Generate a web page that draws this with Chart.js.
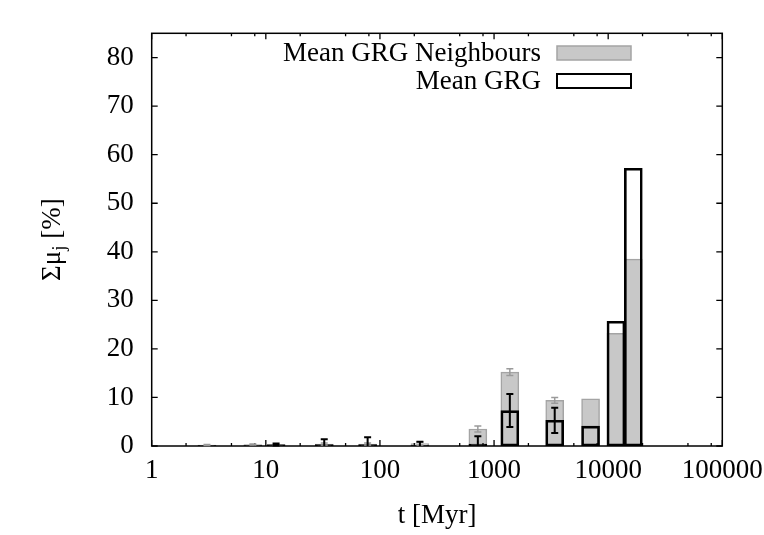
<!DOCTYPE html>
<html>
<head>
<meta charset="utf-8">
<script src="https://cdn.jsdelivr.net/npm/chart.js@4"></script>
<style>
html, body { margin: 0; padding: 0; background: #fff; }
</style>
</head>
<body>
<canvas id="chart" width="764" height="535"></canvas>
<script>
// DATA -----------------------------------------------------------------------

const ages = [3.05, 7.7, 12.3, 32.5, 78, 224, 721, 1375, 3400, 7010, 11700, 16600]
const neighbours = [0.2, 0.3, 0.1, 0.4, 0.4, 0.5, 3.5, 15.2, 9.4, 9.7, 23.2, 38.5]
const neighboursErr = [0.1, 0.1, 0.1, 0.2, 0.2, 0.3, 0.6, 0.7, 0.6, 0, 0, 0]
const grg = [0.1, 0.1, 0.3, 0.3, 0.3, 0.1, 0.4, 7.3, 5.3, 4.1, 25.7, 57.2]
const grgErr = [0, 0, 0.2, 1.1, 1.5, 0.8, 1.6, 3.4, 2.6, 0, 0, 0]

const xTicks = [1, 10, 100, 1000, 10000, 100000]
const xMinor = [2, 5, 8]
const yTicks = [0, 10, 20, 30, 40, 50, 60, 70, 80]

// SETTINGS -------------------------------------------------------------------

const serif = '"Liberation Serif", "Times New Roman", serif'
const style = {
    neighbours: {label: 'Mean GRG Neighbours', fill: '#c8c8c8', edge: '#a4a4a4', err: '#9a9a9a'},
    grg: {label: 'Mean GRG', fill: 'rgba(255,255,255,0)', edge: '#000000', err: '#000000'}
}

function points(values) {
    return ages.map((t, i) => ({x: t, y: values[i]}))
}

// PLUGINS --------------------------------------------------------------------

// gnuplot style frame with inward ticks on all four sides
const framePlugin = {
    id: 'frame',
    afterDatasetsDraw(chart) {
        const {ctx, chartArea: a, scales: {x, y}} = chart
        ctx.save()
        ctx.strokeStyle = '#000'
        ctx.lineWidth = 1.3
        ctx.beginPath()
        xTicks.forEach((d, k) => {
            const px = x.getPixelForValue(d)
            ctx.moveTo(px, a.bottom); ctx.lineTo(px, a.bottom - 6)
            ctx.moveTo(px, a.top); ctx.lineTo(px, a.top + 6)
            if (k < xTicks.length - 1) {
                xMinor.forEach(m => {
                    const mx = x.getPixelForValue(m * d)
                    ctx.moveTo(mx, a.bottom); ctx.lineTo(mx, a.bottom - 3)
                    ctx.moveTo(mx, a.top); ctx.lineTo(mx, a.top + 3)
                })
            }
        })
        yTicks.forEach(v => {
            const py = y.getPixelForValue(v)
            ctx.moveTo(a.left, py); ctx.lineTo(a.left + 6, py)
            ctx.moveTo(a.right, py); ctx.lineTo(a.right - 6, py)
        })
        ctx.stroke()
        ctx.lineWidth = 1.5
        ctx.strokeRect(a.left, a.top, a.right - a.left, a.bottom - a.top)
        ctx.restore()
    }
}

// error bars with small caps
const errorPlugin = {
    id: 'errors',
    afterDatasetsDraw(chart) {
        const {ctx, scales: {x, y}} = chart
        const sets = [[neighbours, neighboursErr, style.neighbours.err, 1.5], [grg, grgErr, style.grg.err, 2]]
        ctx.save()
        sets.forEach(([vals, errs, color, w]) => {
            ctx.strokeStyle = color
            ctx.lineWidth = w
            ctx.beginPath()
            ages.forEach((t, i) => {
                if (!errs[i]) return
                const px = x.getPixelForValue(t)
                const lo = y.getPixelForValue(Math.max(0, vals[i] - errs[i]))
                const hi = y.getPixelForValue(vals[i] + errs[i])
                ctx.moveTo(px, lo); ctx.lineTo(px, hi)
                ctx.moveTo(px - 3.5, hi); ctx.lineTo(px + 3.5, hi)
                if (vals[i] - errs[i] > 0) {
                    ctx.moveTo(px - 3.5, lo); ctx.lineTo(px + 3.5, lo)
                }
            })
            ctx.stroke()
        })
        ctx.restore()
    }
}

// legend (text right aligned, key box on the right) and axis titles
const textPlugin = {
    id: 'texts',
    afterDraw(chart) {
        const {ctx, chartArea: a} = chart
        ctx.save()
        ctx.fillStyle = '#000'
        ctx.font = `27px ${serif}`
        ctx.textAlign = 'right'
        ctx.textBaseline = 'alphabetic'
        const rows = [style.neighbours, style.grg]
        rows.forEach((s, i) => {
            const base = 61 + i * 28
            ctx.fillText(s.label, 541, base)
            ctx.fillStyle = s.fill === style.grg.fill ? '#fff' : s.fill
            ctx.fillRect(557, base - 15, 74, 14)
            ctx.strokeStyle = s.edge
            ctx.lineWidth = i === 0 ? 1.5 : 2
            ctx.strokeRect(557, base - 15, 74, 14)
            ctx.fillStyle = '#000'
        })

        // x title
        ctx.textAlign = 'center'
        ctx.fillText('t [Myr]', (a.left + a.right) / 2, 523)

        // y title with subscript
        ctx.translate(60, (a.top + a.bottom) / 2)
        ctx.rotate(-Math.PI / 2)
        ctx.textAlign = 'left'
        const big = `27px ${serif}`
        const small = `19px ${serif}`
        ctx.font = big
        const w1 = ctx.measureText('\u03a3\u03bc').width
        const w3 = ctx.measureText(' [%]').width
        ctx.font = small
        const w2 = ctx.measureText('j').width
        let xx = -(w1 + w2 + w3) / 2
        ctx.font = big
        ctx.fillText('\u03a3\u03bc', xx, 0)
        xx += w1
        ctx.font = small
        ctx.fillText('j', xx, 5)
        xx += w2
        ctx.font = big
        ctx.fillText(' [%]', xx, 0)
        ctx.restore()
    }
}

// CHART ----------------------------------------------------------------------

new Chart(document.getElementById('chart'), {
    type: 'bar',
    data: {
        datasets: [
            {
                label: style.grg.label,
                data: points(grg),
                backgroundColor: style.grg.fill,
                borderColor: style.grg.edge,
                borderWidth: 2,
                borderSkipped: false,
                grouped: false,
                barThickness: 18,
                order: 0
            },
            {
                label: style.neighbours.label,
                data: points(neighbours),
                backgroundColor: style.neighbours.fill,
                borderColor: style.neighbours.edge,
                borderWidth: 1.5,
                borderSkipped: false,
                grouped: false,
                barThickness: 18,
                order: 1
            }
        ]
    },
    options: {
        responsive: false,
        animation: false,
        layout: {padding: {left: 0, right: 41.7, top: 33.3, bottom: 0}},
        plugins: {
            legend: {display: false},
            tooltip: {enabled: false}
        },
        scales: {
            x: {
                type: 'logarithmic',
                min: 1,
                max: 100000,
                offset: false,
                grid: {display: false, drawTicks: false, offset: false},
                border: {display: false},
                ticks: {
                    color: '#000',
                    font: {family: serif, size: 27},
                    padding: 9,
                    maxRotation: 0,
                    autoSkip: false,
                    callback: v => String(v)
                },
                afterBuildTicks: scale => { scale.ticks = xTicks.map(v => ({value: v})) },
                afterFit: scale => {
                    scale.height = 89
                    scale.paddingLeft = 0
                    scale.paddingRight = 0
                }
            },
            y: {
                min: 0,
                max: 85,
                grid: {display: false, drawTicks: false},
                border: {display: false},
                ticks: {
                    color: '#000',
                    font: {family: serif, size: 27},
                    padding: 18
                },
                afterBuildTicks: scale => { scale.ticks = yTicks.map(v => ({value: v})) },
                afterFit: scale => {
                    scale.width = 151.7
                    scale.paddingTop = 0
                    scale.paddingBottom = 0
                }
            }
        }
    },
    plugins: [framePlugin, errorPlugin, textPlugin]
});
</script>
</body>
</html>
